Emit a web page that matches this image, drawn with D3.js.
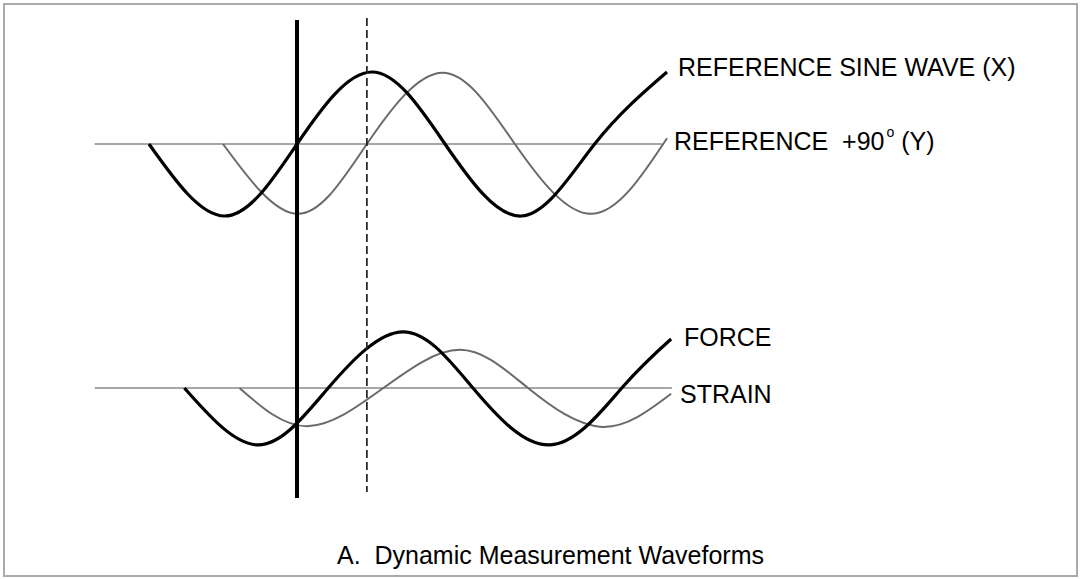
<!DOCTYPE html>
<html>
<head>
<meta charset="utf-8">
<script src="https://cdn.jsdelivr.net/npm/d3@7"></script>
<style>
  html, body { margin: 0; padding: 0; background: #fff; }
  svg text { font-family: "Liberation Sans", Arial, sans-serif; fill: #000; }
</style>
</head>
<body>
<svg id="chart" width="1080" height="579"></svg>
<script>
// Phase axis in degrees of the reference wave (0 = upward zero crossing of X).
// Each waveform is given by its key points: zero crossings, peaks and ends.
const refX   = [[-180, 0], [-88, -1.0], [0, 0], [91, 1.0], [180, 0], [273, -1.0], [362, 0], [450, 1.0]];
const refY   = [[-90, 0], [1, -0.97], [85, 0], [177, 0.99], [265, 0], [359, -0.97], [450, 0.08]];
const force  = [[-137, 0], [-47, -0.79], [38, 0], [129, 0.78], [214, 0], [308, -0.79], [395, 0], [455, 0.68]];
const strain = [[-70, 0], [12, -0.53], [105, 0], [198, 0.53], [281, 0], [371, -0.54], [455, -0.08]];

// Zero lines of the two panels, and the phase markers (solid at 0°, dashed at Y's crossing)
const topZero = [-246, 444];
const bottomZero = [-246, 456];
const markers = [0, 85];

const labels = ["REFERENCE SINE WAVE (X)", "REFERENCE  +90", "FORCE", "STRAIN"];
const caption = "A.  Dynamic Measurement Waveforms";

const svg = d3.select("#chart");

// frame
svg.append("rect")
  .attr("x", 4).attr("y", 4).attr("width", 1073).attr("height", 572)
  .attr("fill", "#fff").attr("stroke", "#aaaaaa").attr("stroke-width", 2);

const x = d3.scaleLinear().domain([-180, 450]).range([149, 667]);
const yTop = d3.scaleLinear().domain([-1, 1]).range([216, 72]);
const yBot = d3.scaleLinear().domain([-1, 1]).range([460, 316]);

function wave(y) {
  return d3.line().x(d => x(d[0])).y(d => y(d[1])).curve(d3.curveNatural);
}

// zero lines
[[topZero, yTop], [bottomZero, yBot]].forEach(([ext, y]) => {
  svg.append("line")
    .attr("x1", x(ext[0])).attr("x2", x(ext[1]))
    .attr("y1", y(0)).attr("y2", y(0))
    .attr("stroke", "#a6a6a6").attr("stroke-width", 2);
});

// lagging (thin gray) waves
svg.append("path").datum(refY).attr("d", wave(yTop))
  .attr("fill", "none").attr("stroke", "#6a6a6a").attr("stroke-width", 2);
svg.append("path").datum(strain).attr("d", wave(yBot))
  .attr("fill", "none").attr("stroke", "#6a6a6a").attr("stroke-width", 2);

// leading (thick black) waves
svg.append("path").datum(refX).attr("d", wave(yTop))
  .attr("fill", "none").attr("stroke", "#000").attr("stroke-width", 3.2);
svg.append("path").datum(force).attr("d", wave(yBot))
  .attr("fill", "none").attr("stroke", "#000").attr("stroke-width", 3.2);

// phase markers
svg.append("line")
  .attr("x1", x(markers[0])).attr("x2", x(markers[0]))
  .attr("y1", 20).attr("y2", 498)
  .attr("stroke", "#000").attr("stroke-width", 4);
svg.append("line")
  .attr("x1", x(markers[1])).attr("x2", x(markers[1]))
  .attr("y1", 18).attr("y2", 492)
  .attr("stroke", "#222").attr("stroke-width", 1.7)
  .attr("stroke-dasharray", "8,4");

// labels
svg.append("text").attr("x", 678).attr("y", 76).attr("font-size", 25).text(labels[0]);
const yl = svg.append("text").attr("x", 674).attr("y", 150).attr("font-size", 25)
  .attr("xml:space", "preserve").style("white-space", "pre");
yl.append("tspan").text(labels[1]);
yl.append("tspan").attr("font-size", 14).attr("dy", -13).attr("dx", 2).text("o");
yl.append("tspan").attr("dy", 13).text(" (Y)");
svg.append("text").attr("x", 684).attr("y", 346).attr("font-size", 25).text(labels[2]);
svg.append("text").attr("x", 680).attr("y", 403).attr("font-size", 25).text(labels[3]);

svg.append("text").attr("x", 337).attr("y", 564).attr("font-size", 25)
  .style("white-space", "pre").text(caption);
</script>
</body>
</html>
